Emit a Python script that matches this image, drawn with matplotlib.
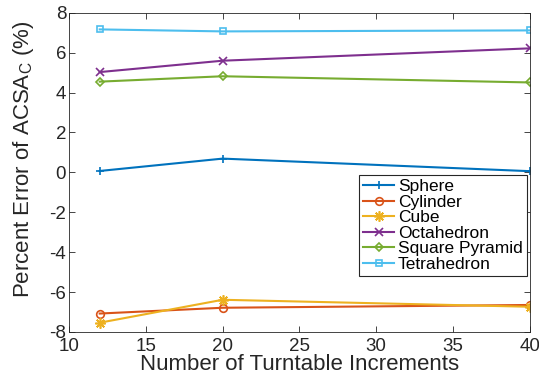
import matplotlib
matplotlib.use('Agg')
import matplotlib.pyplot as plt

plt.rcParams['font.family'] = ['Liberation Sans', 'DejaVu Sans']
plt.rcParams['mathtext.default'] = 'regular'
plt.rcParams['axes.unicode_minus'] = False

# данные
increments = [12, 20, 40]
sphere = [0.07, 0.69, 0.06]
cylinder = [-7.08, -6.79, -6.65]
cube = [-7.54, -6.39, -6.74]
octahedron = [5.03, 5.6, 6.22]
square_pyramid = [4.55, 4.82, 4.51]
tetrahedron = [7.17, 7.07, 7.12]

series = [
    ('Sphere', sphere, '#0072BD', '+', 6),
    ('Cylinder', cylinder, '#D95319', 'o', 5.5),
    ('Cube', cube, '#EDB120', (8, 2, 0), 7.5),
    ('Octahedron', octahedron, '#7E2F8E', 'x', 5.5),
    ('Square Pyramid', square_pyramid, '#77AC30', 'D', 4.5),
    ('Tetrahedron', tetrahedron, '#4DBEEE', 's', 5),
]

fig = plt.figure(figsize=(5.39, 3.78), dpi=100)
ax = fig.add_axes([0.128, 0.122, 0.855, 0.844])

for name, vals, color, marker, ms in series:
    ax.plot(increments, vals, color=color, marker=marker, lw=1.5, ms=ms,
            mfc='none', mew=1.2, label=name)

ax.set_xlim(10, 40)
ax.set_ylim(-8, 8)
ax.set_xticks(range(10, 41, 5))
ax.set_yticks(range(-8, 9, 2))
ax.tick_params(direction='in', top=True, right=True, labelsize=13.5,
               colors='#262626', length=4, width=0.6, pad=2)
ax.tick_params(axis='x', pad=4.5)
for s in ax.spines.values():
    s.set_color('#262626')
    s.set_linewidth(0.6)

ax.set_xlabel('Number of Turntable Increments', fontsize=16, color='#262626', labelpad=-1)
ax.set_ylabel('Percent Error of ACSA$_{C}$ (%)', fontsize=16, color='#262626')
ax.yaxis.set_label_coords(-0.072, 0.54)

leg = ax.legend(loc='upper right', bbox_to_anchor=(0.9935, 0.492), fontsize=12.5,
                fancybox=False, framealpha=1, edgecolor='#262626',
                borderpad=0.25, labelspacing=0.02, handlelength=1.8,
                handletextpad=0.2, borderaxespad=0)
leg.get_frame().set_linewidth(0.8)

fig.savefig('out.png', dpi=100)
